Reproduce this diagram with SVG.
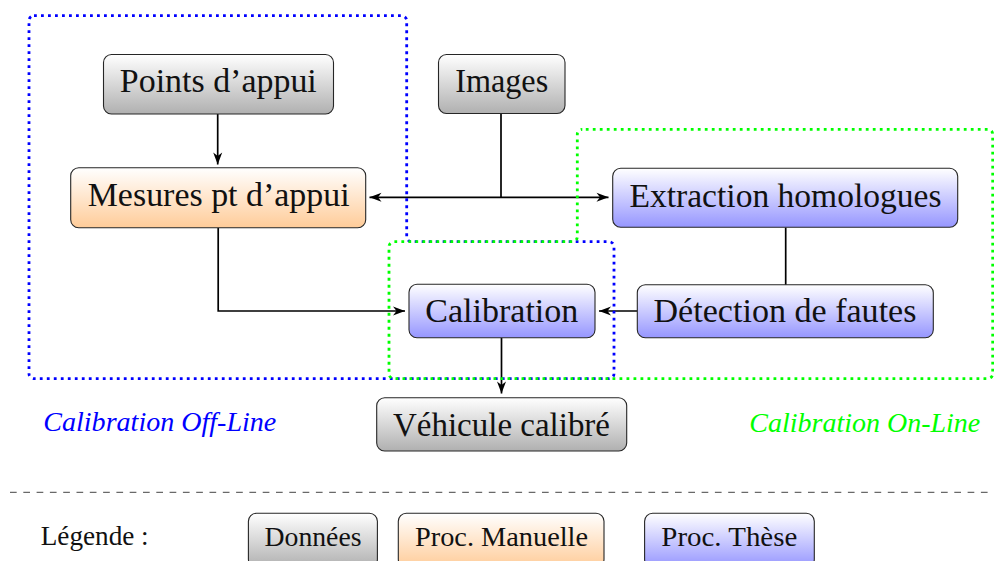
<svg xmlns="http://www.w3.org/2000/svg" width="994" height="561" viewBox="0 0 994 561">
<style>
.box{stroke:#262626;stroke-width:1.1}
.t{font-family:'Liberation Serif','DejaVu Serif',serif;font-size:34px;fill:#111;text-anchor:middle}
.lg{font-family:'Liberation Serif','DejaVu Serif',serif;font-size:28px;fill:#111;text-anchor:middle}
.it{font-family:'Liberation Serif','DejaVu Serif',serif;font-size:28px;font-style:italic}
.c{fill:none;stroke:#000;stroke-width:1.7}
.dot{fill:none;stroke-width:2.8;stroke-dasharray:2.8 4.2}
</style>
<defs>
<linearGradient id="gGray" x1="0" y1="0" x2="0" y2="1"><stop offset="0" stop-color="#ffffff"/><stop offset="1" stop-color="#b0b0b0"/></linearGradient>
<linearGradient id="gOrange" x1="0" y1="0" x2="0" y2="1"><stop offset="0" stop-color="#ffffff"/><stop offset="1" stop-color="#ffcc99"/></linearGradient>
<linearGradient id="gBlue" x1="0" y1="0" x2="0" y2="1"><stop offset="0" stop-color="#ffffff"/><stop offset="1" stop-color="#9696ff"/></linearGradient>
<marker id="arr" markerUnits="userSpaceOnUse" markerWidth="14" markerHeight="12" refX="12" refY="6" orient="auto" overflow="visible">
<path d="M12,6 L0,1.5 L3.5,6 L0,10.5 Z" fill="#000"/>
</marker>
</defs>

<g id="connectors">
<path class="c" d="M217.7,114 V164.5" marker-end="url(#arr)"/>
<path class="c" d="M501,113.5 V197.3"/>
<path class="c" d="M501,197.3 H369.5" marker-end="url(#arr)"/>
<path class="c" d="M501,197.3 H608.5" marker-end="url(#arr)"/>
<path class="c" d="M218.2,227.7 V311 H405" marker-end="url(#arr)"/>
<path class="c" d="M785.7,227.5 V285"/>
<path class="c" d="M637.3,311 H599" marker-end="url(#arr)"/>
<path class="c" d="M501.5,337.7 V393.5" marker-end="url(#arr)"/>
</g>

<g id="region-offline">
<path class="dot" stroke="#0000ff" d="M34,15.7 H401.7 A5,5 0 0 1 406.7,20.7 V236.7 A5,5 0 0 0 411.7,241.7 H609 A5,5 0 0 1 614,246.7 V373.7 A5,5 0 0 1 609,378.7 H34 A5,5 0 0 1 29,373.7 V20.7 A5,5 0 0 1 34,15.7 Z"/>
<text class="it" x="43.3" y="431" fill="#0000ff" textLength="233" lengthAdjust="spacingAndGlyphs">Calibration Off-Line</text>
</g>
<g id="region-online">
<path class="dot" stroke="#00ff00" stroke-dashoffset="3.5" d="M582.3,129.3 H987.7 A5,5 0 0 1 992.7,134.3 V373.7 A5,5 0 0 1 987.7,378.7 H394 A5,5 0 0 1 389,373.7 V246.7 A5,5 0 0 1 394,241.7 H572.3 A5,5 0 0 0 577.3,236.7 V134.3 A5,5 0 0 1 582.3,129.3 Z"/>
<text class="it" x="749.3" y="432" fill="#00ff00" textLength="231" lengthAdjust="spacingAndGlyphs">Calibration On-Line</text>
</g>

<g id="points-appui">
<rect class="box" x="103.5" y="54.5" width="230" height="59.5" rx="8" fill="url(#gGray)"/>
<text class="t" x="218.3" y="92" textLength="197" lengthAdjust="spacingAndGlyphs">Points d’appui</text>
</g>
<g id="images">
<rect class="box" x="438.5" y="54.5" width="126.5" height="59" rx="8" fill="url(#gGray)"/>
<text class="t" x="501.7" y="92.3" textLength="93" lengthAdjust="spacingAndGlyphs">Images</text>
</g>
<g id="mesures">
<rect class="box" x="70.7" y="167.7" width="295" height="60" rx="8" fill="url(#gOrange)"/>
<text class="t" x="218.7" y="206" textLength="262" lengthAdjust="spacingAndGlyphs">Mesures pt d’appui</text>
</g>
<g id="extraction">
<rect class="box" x="612.7" y="168.3" width="345" height="59" rx="8" fill="url(#gBlue)"/>
<text class="t" x="785.5" y="206.7" textLength="312" lengthAdjust="spacingAndGlyphs">Extraction homologues</text>
</g>
<g id="calibration">
<rect class="box" x="409" y="284.3" width="186" height="53.4" rx="8" fill="url(#gBlue)"/>
<text class="t" x="501.8" y="322" textLength="153" lengthAdjust="spacingAndGlyphs">Calibration</text>
</g>
<g id="detection">
<rect class="box" x="637.3" y="284.7" width="296" height="53" rx="8" fill="url(#gBlue)"/>
<text class="t" x="785" y="321.7" textLength="263" lengthAdjust="spacingAndGlyphs">Détection de fautes</text>
</g>
<g id="vehicule">
<rect class="box" x="376.7" y="397.7" width="250" height="53.3" rx="8" fill="url(#gGray)"/>
<text class="t" x="501.5" y="436" textLength="217" lengthAdjust="spacingAndGlyphs">Véhicule calibré</text>
</g>

<line x1="10" y1="492.3" x2="994" y2="492.3" stroke="#444" stroke-width="1" stroke-dasharray="6.7 6.6"/>

<g id="legende">
<text class="lg" x="40.7" y="545" style="text-anchor:start" textLength="108" lengthAdjust="spacingAndGlyphs">Légende :</text>
</g>
<g id="leg-donnees">
<rect class="box" x="248.4" y="513.3" width="129" height="54" rx="8" fill="url(#gGray)"/>
<text class="lg" x="313" y="546" textLength="97" lengthAdjust="spacingAndGlyphs">Données</text>
</g>
<g id="leg-manuelle">
<rect class="box" x="398.3" y="513.3" width="205.7" height="54" rx="8" fill="url(#gOrange)"/>
<text class="lg" x="501.5" y="546" textLength="173" lengthAdjust="spacingAndGlyphs">Proc. Manuelle</text>
</g>
<g id="leg-these">
<rect class="box" x="644.6" y="513.3" width="169.7" height="54" rx="8" fill="url(#gBlue)"/>
<text class="lg" x="729.3" y="546" textLength="136" lengthAdjust="spacingAndGlyphs">Proc. Thèse</text>
</g>
</svg>
